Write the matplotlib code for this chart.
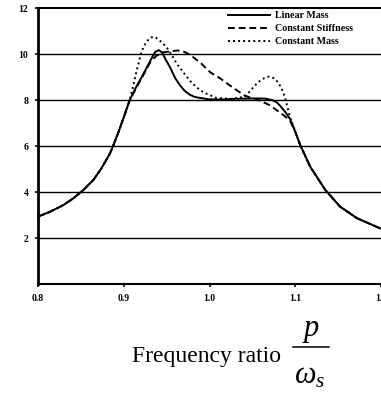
import matplotlib
matplotlib.use("Agg")
import matplotlib.pyplot as plt
from matplotlib.lines import Line2D

plt.rcParams["font.family"] = "Liberation Serif"
plt.rcParams["mathtext.fontset"] = "custom"
plt.rcParams["mathtext.rm"] = "Liberation Serif"
plt.rcParams["mathtext.it"] = "Liberation Serif:italic"

# shared skirts of the response curve
left_x = [0.800, 0.814, 0.8295, 0.841, 0.853, 0.8645, 0.874, 0.884, 0.888, 0.894, 0.900, 0.907]
left_y = [2.93, 3.14, 3.43, 3.72, 4.09, 4.52, 5.03, 5.68, 6.04, 6.62, 7.25, 8.00]
right_x = [1.100, 1.1058, 1.1175, 1.135, 1.1524, 1.172, 1.199, 1.200]
right_y = [6.62, 6.04, 5.10, 4.09, 3.36, 2.86, 2.42, 2.41]

# peak region of each model
linear_x = [0.915, 0.921, 0.927, 0.933, 0.937, 0.941, 0.945, 0.949, 0.954, 0.960,
            0.966, 0.971, 0.977, 0.983, 0.989, 1.000, 1.012, 1.030, 1.051, 1.065,
            1.073, 1.079, 1.084, 1.089, 1.094]
linear_y = [8.60, 9.00, 9.42, 9.85, 10.10, 10.17, 10.05, 9.75, 9.42, 8.95,
            8.62, 8.40, 8.23, 8.13, 8.09, 8.03, 8.02, 8.05, 8.07, 8.06,
            8.00, 7.88, 7.68, 7.45, 7.17]

stiff_x = [0.915, 0.923, 0.931, 0.938, 0.946, 0.955, 0.962, 0.968, 0.973, 0.978,
           0.990, 1.001, 1.012, 1.025, 1.041, 1.059, 1.070, 1.079, 1.086, 1.094]
stiff_y = [8.55, 9.10, 9.65, 9.92, 10.07, 10.12, 10.15, 10.14, 10.05, 9.95,
           9.60, 9.20, 8.95, 8.60, 8.19, 7.97, 7.78, 7.54, 7.35, 7.10]

mass_x = [0.911, 0.915, 0.921, 0.926, 0.930, 0.934, 0.938, 0.944, 0.950, 0.956,
          0.962, 0.970, 0.977, 0.985, 0.993, 1.008, 1.025, 1.041, 1.046, 1.051,
          1.056, 1.062, 1.069, 1.075, 1.080, 1.084, 1.088, 1.094]
mass_y = [8.60, 9.27, 10.14, 10.50, 10.68, 10.75, 10.70, 10.52, 10.29, 9.95,
          9.57, 9.18, 8.84, 8.55, 8.33, 8.09, 8.05, 8.14, 8.33, 8.55,
          8.75, 8.92, 9.02, 8.95, 8.77, 8.50, 8.12, 7.25]

series = [
    ("Linear Mass", linear_x, linear_y, "-"),
    ("Constant Stiffness", stiff_x, stiff_y, (0, (3.5, 2))),
    ("Constant Mass", mass_x, mass_y, (0, (1, 1.6))),
]

yticks = [2, 4, 6, 8, 10, 12]
xticks = [0.8, 0.9, 1.0, 1.1, 1.2]

W, H = 381, 403
fig = plt.figure(figsize=(W / 100, H / 100), dpi=100)
ax = fig.add_axes([38 / W, 1 - 284 / H, 1 - 38 / W, 276 / H])

for label, px, py, ls in series:
    xs = left_x + px + right_x
    ys = left_y + py + right_y
    ax.plot(xs, ys, color="black", linestyle=ls, linewidth=1.4, label=label,
            solid_joinstyle="round")

ax.set_xlim(0.8, 1.2)
ax.set_ylim(0, 12)
ax.set_xticks(xticks)
ax.set_xticklabels([f"{t:.1f}" for t in xticks])
ax.set_yticks(yticks)
ax.set_yticklabels([str(t) for t in yticks])
for y in yticks[:-1]:
    ax.axhline(y, color="black", linewidth=1.0, zorder=0)

ax.spines["right"].set_visible(False)
ax.spines["left"].set_linewidth(2.0)
ax.spines["bottom"].set_linewidth(1.5)
ax.spines["top"].set_linewidth(1.5)
ax.tick_params(axis="both", length=2, width=1.2, labelsize=7, pad=5)
for t in ax.get_xticklabels() + ax.get_yticklabels():
    t.set_fontweight("bold")

ax.legend(loc="upper left", bbox_to_anchor=(228 / W, 1 - 11 / H),
          bbox_transform=fig.transFigure, frameon=False, borderpad=0,
          borderaxespad=0, prop={"size": 7.2, "weight": "bold"},
          handlelength=4.2, handletextpad=0.5, labelspacing=0.42)

# axis title with a hand-set fraction p / omega_s
fig.text(132 / W, 1 - 362 / H, "Frequency ratio", fontsize=17,
         ha="left", va="baseline")
fig.add_artist(Line2D([293 / W, 329 / W], [1 - 347 / H, 1 - 347 / H],
                      transform=fig.transFigure, color="black", linewidth=1.1))
fig.text(311 / W, 1 - 336 / H, r"$p$", fontsize=22, ha="center", va="baseline")
fig.text(310 / W, 1 - 384 / H, r"$\omega_s$", fontsize=22, ha="center",
         va="baseline")

fig.savefig("out.png", dpi=100)
